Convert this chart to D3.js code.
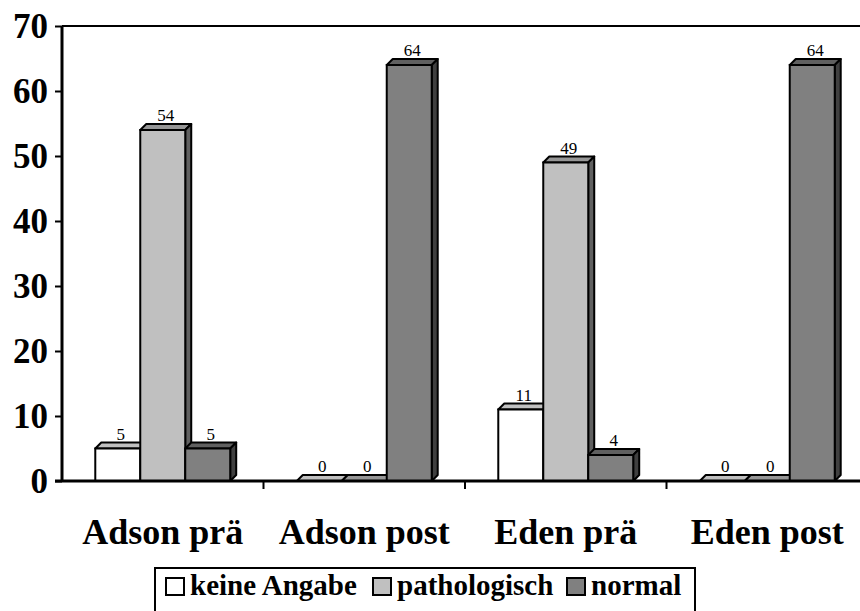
<!DOCTYPE html>
<html><head><meta charset="utf-8">
<script src="https://cdn.jsdelivr.net/npm/d3@7"></script>
<style>body{margin:0;background:#fff}svg{display:block}</style>
</head><body>
<script>
const categories = ["Adson prä", "Adson post", "Eden prä", "Eden post"];
const seriesNames = ["keine Angabe", "pathologisch", "normal"];
const keineAngabe = [5, 0, 11, 0];
const pathologisch = [54, 0, 49, 0];
const normal = [5, 64, 4, 64];
const yTicks = [0, 10, 20, 30, 40, 50, 60, 70];

(function () {
const seriesValues = [keineAngabe, pathologisch, normal];
const fronts = ["#ffffff", "#c0c0c0", "#808080"];
const tops = ["#c0c0c0", "#969696", "#606060"];
const sides = ["#808080", "#606060", "#404040"];

const W = 860, H = 611;
const svg = d3.select("body").append("svg").attr("width", W).attr("height", H);
const pL = 62, pR = 868, pT = 26, pB = 481;
const depth = 6;
const serif = "'Liberation Serif', 'Times New Roman', serif";

const y = d3.scaleLinear().domain([0, 70]).range([pB, pT]);
const x0 = d3.scaleBand().domain(categories).range([pL, pR]).padding(0);
const x1 = d3.scaleBand().domain(seriesNames).range([0, x0.bandwidth()]).paddingInner(0).paddingOuter(0.74);

svg.append("line").attr("x1", pL).attr("x2", W).attr("y1", y(70)).attr("y2", y(70))
  .attr("stroke", "#000").attr("stroke-width", 2);

categories.forEach((c, ci) => {
  seriesNames.forEach((s, si) => {
    const v = seriesValues[si][ci];
    const bx = x0(c) + x1(s), bw = x1.bandwidth();
    const yt = y(v), yb = y(0);
    const g = svg.append("g");
    g.append("path").attr("d", `M${bx},${yt} L${bx+depth},${yt-depth} L${bx+bw+depth},${yt-depth} L${bx+bw},${yt} Z`)
      .attr("fill", tops[si]).attr("stroke", "#000").attr("stroke-width", 2).attr("stroke-linejoin", "round");
    if (v > 0) {
      g.append("path").attr("d", `M${bx+bw},${yt} L${bx+bw+depth},${yt-depth} L${bx+bw+depth},${yb-depth} L${bx+bw},${yb} Z`)
        .attr("fill", sides[si]).attr("stroke", "#000").attr("stroke-width", 2).attr("stroke-linejoin", "round");
      g.append("rect").attr("x", bx).attr("y", yt).attr("width", bw).attr("height", yb - yt)
        .attr("fill", fronts[si]).attr("stroke", "#000").attr("stroke-width", 2);
    }
    svg.append("text").attr("x", bx + bw/2 + depth/2).attr("y", yt - depth - 3)
      .attr("text-anchor", "middle").attr("font-family", serif)
      .attr("font-size", 17).text(v);
  });
});

const yAxis = d3.axisLeft(y).tickValues(yTicks).tickSize(7).tickFormat(d3.format("d"));
const ya = svg.append("g").attr("transform", `translate(${pL},0)`).call(yAxis);
ya.select(".domain").attr("stroke-width", 3).attr("d", `M0,${pT}V${pB}`);
ya.selectAll(".tick line").attr("stroke-width", 2);
ya.selectAll(".tick text").attr("font-family", serif)
  .attr("font-weight", "bold").attr("font-size", 35).attr("fill", "#000").attr("x", -14).attr("dy", "0.34em");

svg.append("line").attr("x1", pL - 7).attr("x2", W).attr("y1", pB).attr("y2", pB)
  .attr("stroke", "#000").attr("stroke-width", 3);
categories.slice(1).forEach(c => {
  svg.append("line").attr("x1", x0(c)).attr("x2", x0(c)).attr("y1", pB).attr("y2", pB + 8)
    .attr("stroke", "#000").attr("stroke-width", 2);
});
categories.forEach(c => {
  svg.append("text").attr("x", x0(c) + x0.bandwidth()/2).attr("y", 544)
    .attr("text-anchor", "middle").attr("font-family", serif)
    .attr("font-weight", "bold").attr("font-size", 36).text(c);
});

const lg = svg.append("g");
lg.append("rect").attr("x", 155).attr("y", 568).attr("width", 540).attr("height", 50)
  .attr("fill", "#fff").attr("stroke", "#000").attr("stroke-width", 2);
const legX = [166, 373, 567];
seriesNames.forEach((s, i) => {
  lg.append("rect").attr("x", legX[i]).attr("y", 578).attr("width", 18).attr("height", 17)
    .attr("fill", fronts[i]).attr("stroke", "#000").attr("stroke-width", 2);
  lg.append("text").attr("x", legX[i] + 24).attr("y", 595)
    .attr("font-family", serif).attr("font-weight", "bold")
    .attr("font-size", 29).text(s);
});
})();
</script>
</body></html>
